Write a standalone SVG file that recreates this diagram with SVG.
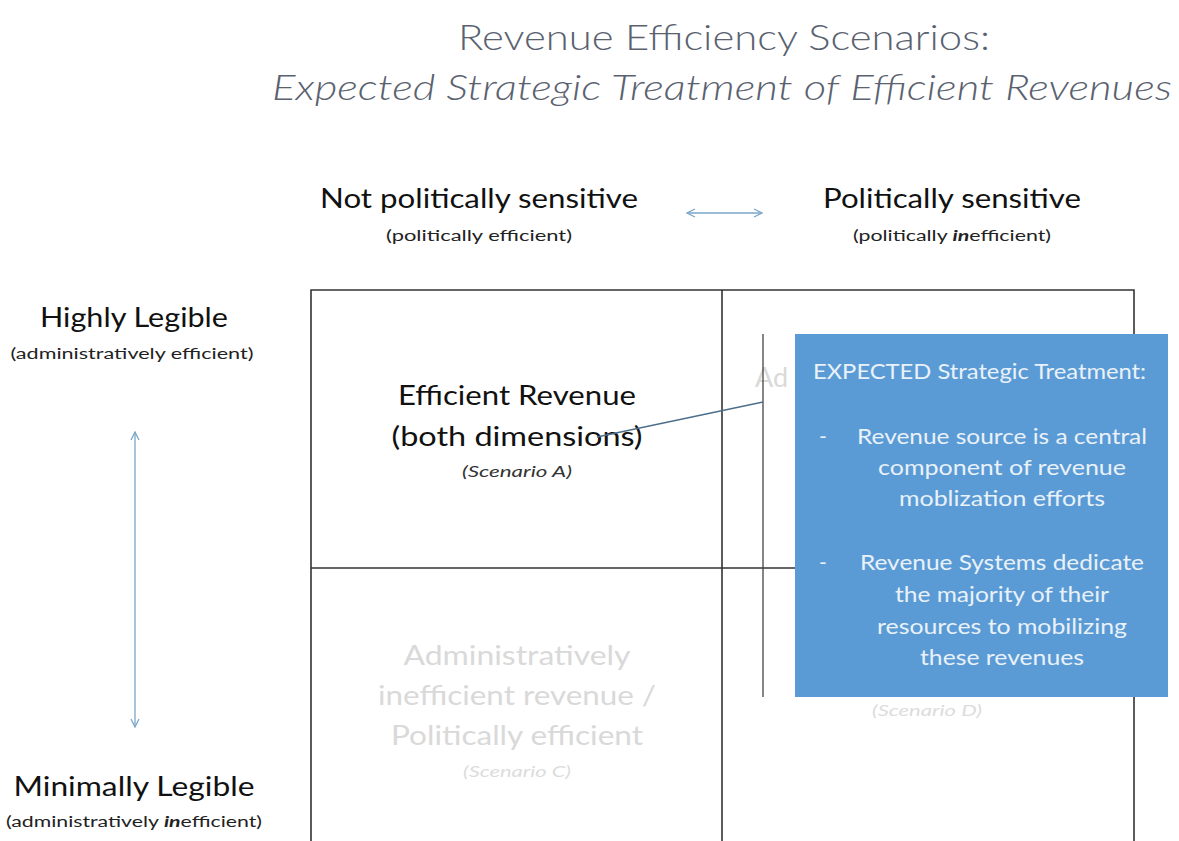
<svg xmlns="http://www.w3.org/2000/svg" width="1179" height="841" viewBox="0 0 1179 841">
<defs>
<style>
text{font-family:Lato,"Open Sans","Liberation Sans",sans-serif;text-anchor:middle}
.title{fill:#5a6270;font-size:36px;font-weight:300}
.head{fill:#111;font-size:27px}
.sub{fill:#222;font-size:15.5px}
.cell{fill:#111;font-size:27px}
.scen{fill:#333;font-size:15.5px;font-style:italic}
.faint{fill:#d9d9d9;font-size:27px}
.faintS{fill:#dcdcdc;font-size:15.5px;font-style:italic}
.box{fill:#e9f1f9;font-size:21px}
.grid{stroke:#333;stroke-width:1.6;fill:none}
.arr{stroke:#7aa6c8;stroke-width:1.3;fill:none}
</style>
<marker id="ah" viewBox="0 0 10 10" refX="9" refY="5" markerWidth="10" markerHeight="10" markerUnits="userSpaceOnUse" orient="auto-start-reverse">
<path d="M1,1 L9,5 L1,9" fill="none" stroke="#7aa6c8" stroke-width="1.3"/>
</marker>
</defs>
<rect width="1179" height="841" fill="#fff"/>

<g id="title">
<text class="title" x="724" y="50" textLength="532" lengthAdjust="spacingAndGlyphs">Revenue Efficiency Scenarios:</text>
<text class="title" x="722" y="100" font-style="italic" textLength="900" lengthAdjust="spacingAndGlyphs">Expected Strategic Treatment of Efficient Revenues</text>
</g>

<g id="axis-political">
<text class="head" x="479" y="208" textLength="318" lengthAdjust="spacingAndGlyphs">Not politically sensitive</text>
<text class="sub" x="479" y="241" textLength="186" lengthAdjust="spacingAndGlyphs">(politically efficient)</text>
<text class="head" x="952" y="208" textLength="258" lengthAdjust="spacingAndGlyphs">Politically sensitive</text>
<text class="sub" x="952" y="241" textLength="198" lengthAdjust="spacingAndGlyphs">(politically <tspan font-weight="bold" font-style="italic">in</tspan>efficient)</text>
</g>

<g id="axis-legibility">
<text class="head" x="134" y="327" textLength="188" lengthAdjust="spacingAndGlyphs">Highly Legible</text>
<text class="sub" x="132" y="359" textLength="243" lengthAdjust="spacingAndGlyphs">(administratively efficient)</text>
<text class="head" x="134" y="796" textLength="241" lengthAdjust="spacingAndGlyphs">Minimally Legible</text>
<text class="sub" x="134" y="827" textLength="256" lengthAdjust="spacingAndGlyphs">(administratively <tspan font-weight="bold" font-style="italic">in</tspan>efficient)</text>
</g>

<g id="grid">
<path class="grid" d="M311,845 V290 H1134 V845 M722,290 V845 M311,568 H1134"/>
</g>

<g id="scenario-a">
<text class="cell" x="517" y="405" textLength="238" lengthAdjust="spacingAndGlyphs">Efficient Revenue</text>
<text class="cell" x="517" y="446" textLength="251" lengthAdjust="spacingAndGlyphs">(both dimensions)</text>
<text class="scen" x="517" y="477" textLength="110" lengthAdjust="spacingAndGlyphs">(Scenario A)</text>
</g>

<g id="scenario-b">
<text class="faint" x="755" y="387" style="text-anchor:start">Ad</text>
</g>

<g id="scenario-c">
<text class="faint" x="517" y="665" textLength="227" lengthAdjust="spacingAndGlyphs">Administratively</text>
<text class="faint" x="517" y="705" textLength="278" lengthAdjust="spacingAndGlyphs">inefficient revenue /</text>
<text class="faint" x="517" y="745" textLength="252" lengthAdjust="spacingAndGlyphs">Politically efficient</text>
<text class="faintS" x="517" y="777" textLength="108" lengthAdjust="spacingAndGlyphs">(Scenario C)</text>
</g>

<g id="scenario-d">
<text class="faintS" x="927" y="716" textLength="110" lengthAdjust="spacingAndGlyphs">(Scenario D)</text>
</g>

<g id="connectors">
<line class="arr" x1="687" y1="213" x2="762" y2="213" marker-start="url(#ah)" marker-end="url(#ah)"/>
<line class="arr" x1="135" y1="432" x2="135" y2="727" marker-start="url(#ah)" marker-end="url(#ah)"/>
<line x1="763" y1="334" x2="763" y2="697" stroke="#444" stroke-width="1.3"/>
<line x1="763" y1="402" x2="597" y2="437" stroke="#4d6e8a" stroke-width="1.3"/>
</g>

<g id="callout">
<rect x="795" y="334" width="373" height="363" fill="#5b9bd5"/>
<text class="box" x="813" y="379" style="text-anchor:start" font-size="20" textLength="333" lengthAdjust="spacingAndGlyphs">EXPECTED Strategic Treatment:</text>
<text class="box" x="819" y="444" style="text-anchor:start">-</text>
<text class="box" x="1002" y="444" textLength="290" lengthAdjust="spacingAndGlyphs">Revenue source is a central</text>
<text class="box" x="1002" y="475" textLength="248" lengthAdjust="spacingAndGlyphs">component of revenue</text>
<text class="box" x="1002" y="506" textLength="206" lengthAdjust="spacingAndGlyphs">moblization efforts</text>
<text class="box" x="819" y="570" style="text-anchor:start">-</text>
<text class="box" x="1002" y="570" textLength="284" lengthAdjust="spacingAndGlyphs">Revenue Systems dedicate</text>
<text class="box" x="1002" y="602" textLength="214" lengthAdjust="spacingAndGlyphs">the majority of their</text>
<text class="box" x="1002" y="634" textLength="250" lengthAdjust="spacingAndGlyphs">resources to mobilizing</text>
<text class="box" x="1002" y="665" textLength="164" lengthAdjust="spacingAndGlyphs">these revenues</text>
</g>
</svg>
